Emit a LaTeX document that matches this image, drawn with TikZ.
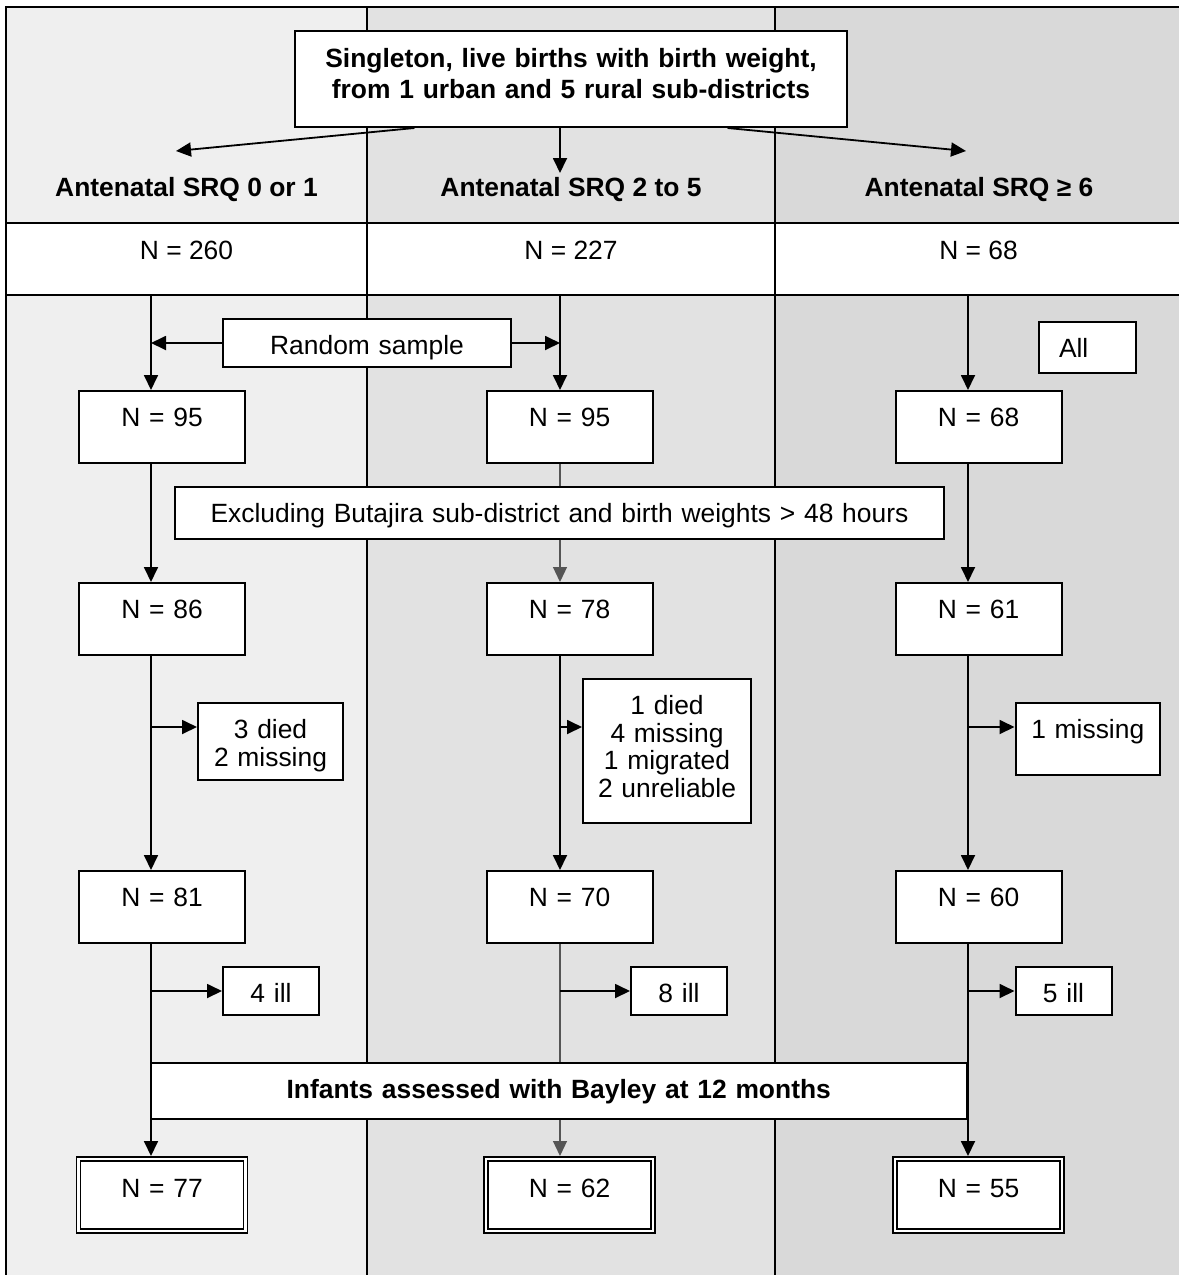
\documentclass[tikz,border=0pt]{standalone}
\usepackage{fontspec}
\setmainfont{Liberation Sans}
\usetikzlibrary{positioning,calc,arrows.meta}
\definecolor{laneLow}{HTML}{EFEFEF}
\definecolor{laneMid}{HTML}{E2E2E2}
\definecolor{laneHigh}{HTML}{D9D9D9}
\definecolor{faintLine}{HTML}{555555}
\tikzset{
   srqBox/.style = {
         rectangle,
         draw,
         fill = white,
         align = center,
         inner xsep = 0pt,
         inner ysep = 0pt,
         text height = 17.6pt,
         line width = 1pt,
         font = \fontsize{13.2}{13.9}\selectfont,
      },
   srqTitle/.style = {
         srqBox,
         text width = 276pt,
         text height = 18.2pt,
         text depth = 29.8pt,
         font = \fontsize{13.2}{15.5}\selectfont\bfseries,
      },
   srqHead/.style = {
         anchor = base,
         inner sep = 0pt,
         font = \fontsize{13.2}{15.5}\selectfont\bfseries,
      },
   srqTotal/.style = {
         anchor = base,
         inner sep = 0pt,
         font = \fontsize{13.2}{13.9}\selectfont,
      },
   srqCount/.style = {
         srqBox,
         text width = 83pt,
         text depth = 18.4pt,
      },
   srqIll/.style = {
         srqBox,
         text width = 48pt,
         text depth = 6.4pt,
      },
   srqFinal/.style = {
         srqBox,
         double,
         double distance = 1.2pt,
         line width = 0.8pt,
         outer sep = 1.4pt,
         text width = 83.5pt,
         text height = 19.3pt,
         text depth = 16.9pt,
      },
   srqLine/.style = {
         draw,
         -{Triangle[length=7.5pt,width=7pt]},
         line width = 0.9pt,
      },
   srqFaint/.style = {
         srqLine,
         draw = faintLine,
         line width = 0.6pt,
      },
}

\begin{document}
\begin{tikzpicture}[x=0.5pt, y=-0.5pt, node distance = 144pt]

\useasboundingbox (0,0) rectangle (1179,1275);

% Column shading and table rules
\fill [laneLow] (6,7) rectangle (367,1275);
\fill [laneMid] (367,7) rectangle (775,1275);
\fill [laneHigh] (775,7) rectangle (1179,1275);
\fill [white] (6,223) rectangle (1179,295);

\draw [line width=1pt] (6,1275) -- (6,7) -- (1179,7);
\draw [line width=1pt] (367,7) -- (367,1275);
\draw [line width=1pt] (775,7) -- (775,1275);
\draw [line width=1pt] (6,223) -- (1179,223);
\draw [line width=1pt] (6,295) -- (1179,295);

% Guide points
\coordinate (lane-low) at (151,0);
\coordinate (lane-mid) at (560,0);
\coordinate (lane-high) at (968,0);
\coordinate (rule-bottom) at (0,295);
\coordinate (tap-loss) at (0,727);
\coordinate (tip-low) at (176,151);
\coordinate (tip-mid) at (560,173);
\coordinate (tip-high) at (966,151);

% Place nodes
\node [srqTitle] (title) at (571,79)
	{Singleton, live births with birth weight,\\from 1 urban and 5 rural sub-districts};

\node [srqHead] (head-low) at (186.5,196.4) {Antenatal SRQ 0 or 1};
\node [srqHead] (head-mid) at (571,196.4) {Antenatal SRQ 2 to 5};
\node [srqHead] (head-high) at (979,196.4) {Antenatal SRQ ≥ 6};

\node [srqTotal] (total-low) at (186.5,259.4) {N = 260};
\node [srqTotal] (total-mid) at (571,259.4) {N = 227};
\node [srqTotal] (total-high) at (978.5,259.4) {N = 68};

\node [srqBox, text width=144pt, text depth=6.4pt]
	(sample) at (367,343) {Random sample};
\node [srqBox, text width=28.5pt, inner xsep=10pt, align=left, text depth=7.9pt]
	(all) at (1087.5,347.5) {All};

\node [srqCount] (cnt95-low) at (162,427) {N = 95};
\node [srqCount] (cnt95-mid) at (569.5,427) {N = 95};
\node [srqCount] (cnt68-high) at (978.5,427) {N = 68};

\node [srqBox, text width=384.5pt, text depth=8.4pt]
	(excl) at (559.5,513) {Excluding Butajira sub-district and birth weights > 48 hours};

\node [srqCount, below of =cnt95-low, yshift=48pt] (cnt86-low) {N = 86};
\node [srqCount, below of =cnt95-mid, yshift=48pt] (cnt78-mid) {N = 78};
\node [srqCount, below of =cnt68-high, yshift=48pt] (cnt61-high) {N = 61};

\node [srqBox, text width=72.5pt, text depth=20.9pt]
	(loss-low) at (270.5,741.5) {3 died\\2 missing};
\node [srqBox, text width=84pt, text depth=54.4pt]
	(loss-mid) at (667,751) {1 died\\4 missing\\1 migrated\\2 unreliable};
\node [srqBox, text width=72.25pt, text depth=18.4pt]
	(loss-high) at (1087.75,739) {1 missing};

\node [srqCount, below of =cnt86-low] (cnt81-low) {N = 81};
\node [srqCount, below of =cnt78-mid] (cnt70-mid) {N = 70};
\node [srqCount, below of =cnt61-high] (cnt60-high) {N = 60};

\node [srqIll] (ill-low) at (271,991) {4 ill};
\node [srqIll] (ill-mid) at (679,991) {8 ill};
\node [srqIll] (ill-high) at (1063.5,991) {5 ill};

\node [srqBox, text width=407.75pt, text depth=10.4pt, font=\fontsize{13.2}{13.9}\selectfont\bfseries]
	(bayley) at (558.75,1091) {Infants assessed with Bayley at 12 months};

\node [srqFinal, below of =cnt81-low] (fin-low) {N = 77};
\node [srqFinal, below of =cnt70-mid] (fin-mid) {N = 62};
\node [srqFinal, below of =cnt60-high] (fin-high) {N = 55};

% Draw edges
\path [srqLine] ($(title.south west)!0.2174!(title.south east)$) -- (tip-low);
\path [srqLine] (title.south -| tip-mid) -- (tip-mid);
\path [srqLine] ($(title.south west)!0.7826!(title.south east)$) -- (tip-high);

\path [srqLine] (sample.west) -- (sample.west -| lane-low);
\path [srqLine] (sample.east) -- (sample.east -| lane-mid);

\path [srqLine] (rule-bottom -| lane-low) -- (cnt95-low.north -| lane-low);
\path [srqLine] (cnt95-low.south -| lane-low) -- (cnt86-low.north -| lane-low);
\path [srqLine] (cnt86-low.south -| lane-low) -- (cnt81-low.north -| lane-low);
\path [srqLine] (cnt81-low.south -| lane-low) -- (fin-low.north -| lane-low);

\path [srqLine] (rule-bottom -| lane-mid) -- (cnt95-mid.north -| lane-mid);
\path [srqFaint, -] (cnt95-mid.south -| lane-mid) -- (excl.north -| lane-mid);
\path [srqFaint] (excl.south -| lane-mid) -- (cnt78-mid.north -| lane-mid);
\path [srqLine] (cnt78-mid.south -| lane-mid) -- (cnt70-mid.north -| lane-mid);
\path [srqFaint, -] (cnt70-mid.south -| lane-mid) -- (bayley.north -| lane-mid);
\path [srqFaint] (bayley.south -| lane-mid) -- (fin-mid.north -| lane-mid);

\path [srqLine] (rule-bottom -| lane-high) -- (cnt68-high.north -| lane-high);
\path [srqLine] (cnt68-high.south -| lane-high) -- (cnt61-high.north -| lane-high);
\path [srqLine] (cnt61-high.south -| lane-high) -- (cnt60-high.north -| lane-high);
\path [srqLine] (cnt60-high.south -| lane-high) -- (fin-high.north -| lane-high);

\path [srqLine] (lane-low |- tap-loss) -- (loss-low.west |- tap-loss);
\path [srqLine] (lane-mid |- tap-loss) -- (loss-mid.west |- tap-loss);
\path [srqLine] (lane-high |- tap-loss) -- (loss-high.west |- tap-loss);

\path [srqLine] (ill-low.west -| lane-low) -- (ill-low.west);
\path [srqLine] (ill-mid.west -| lane-mid) -- (ill-mid.west);
\path [srqLine] (ill-high.west -| lane-high) -- (ill-high.west);

\end{tikzpicture}
\end{document}
